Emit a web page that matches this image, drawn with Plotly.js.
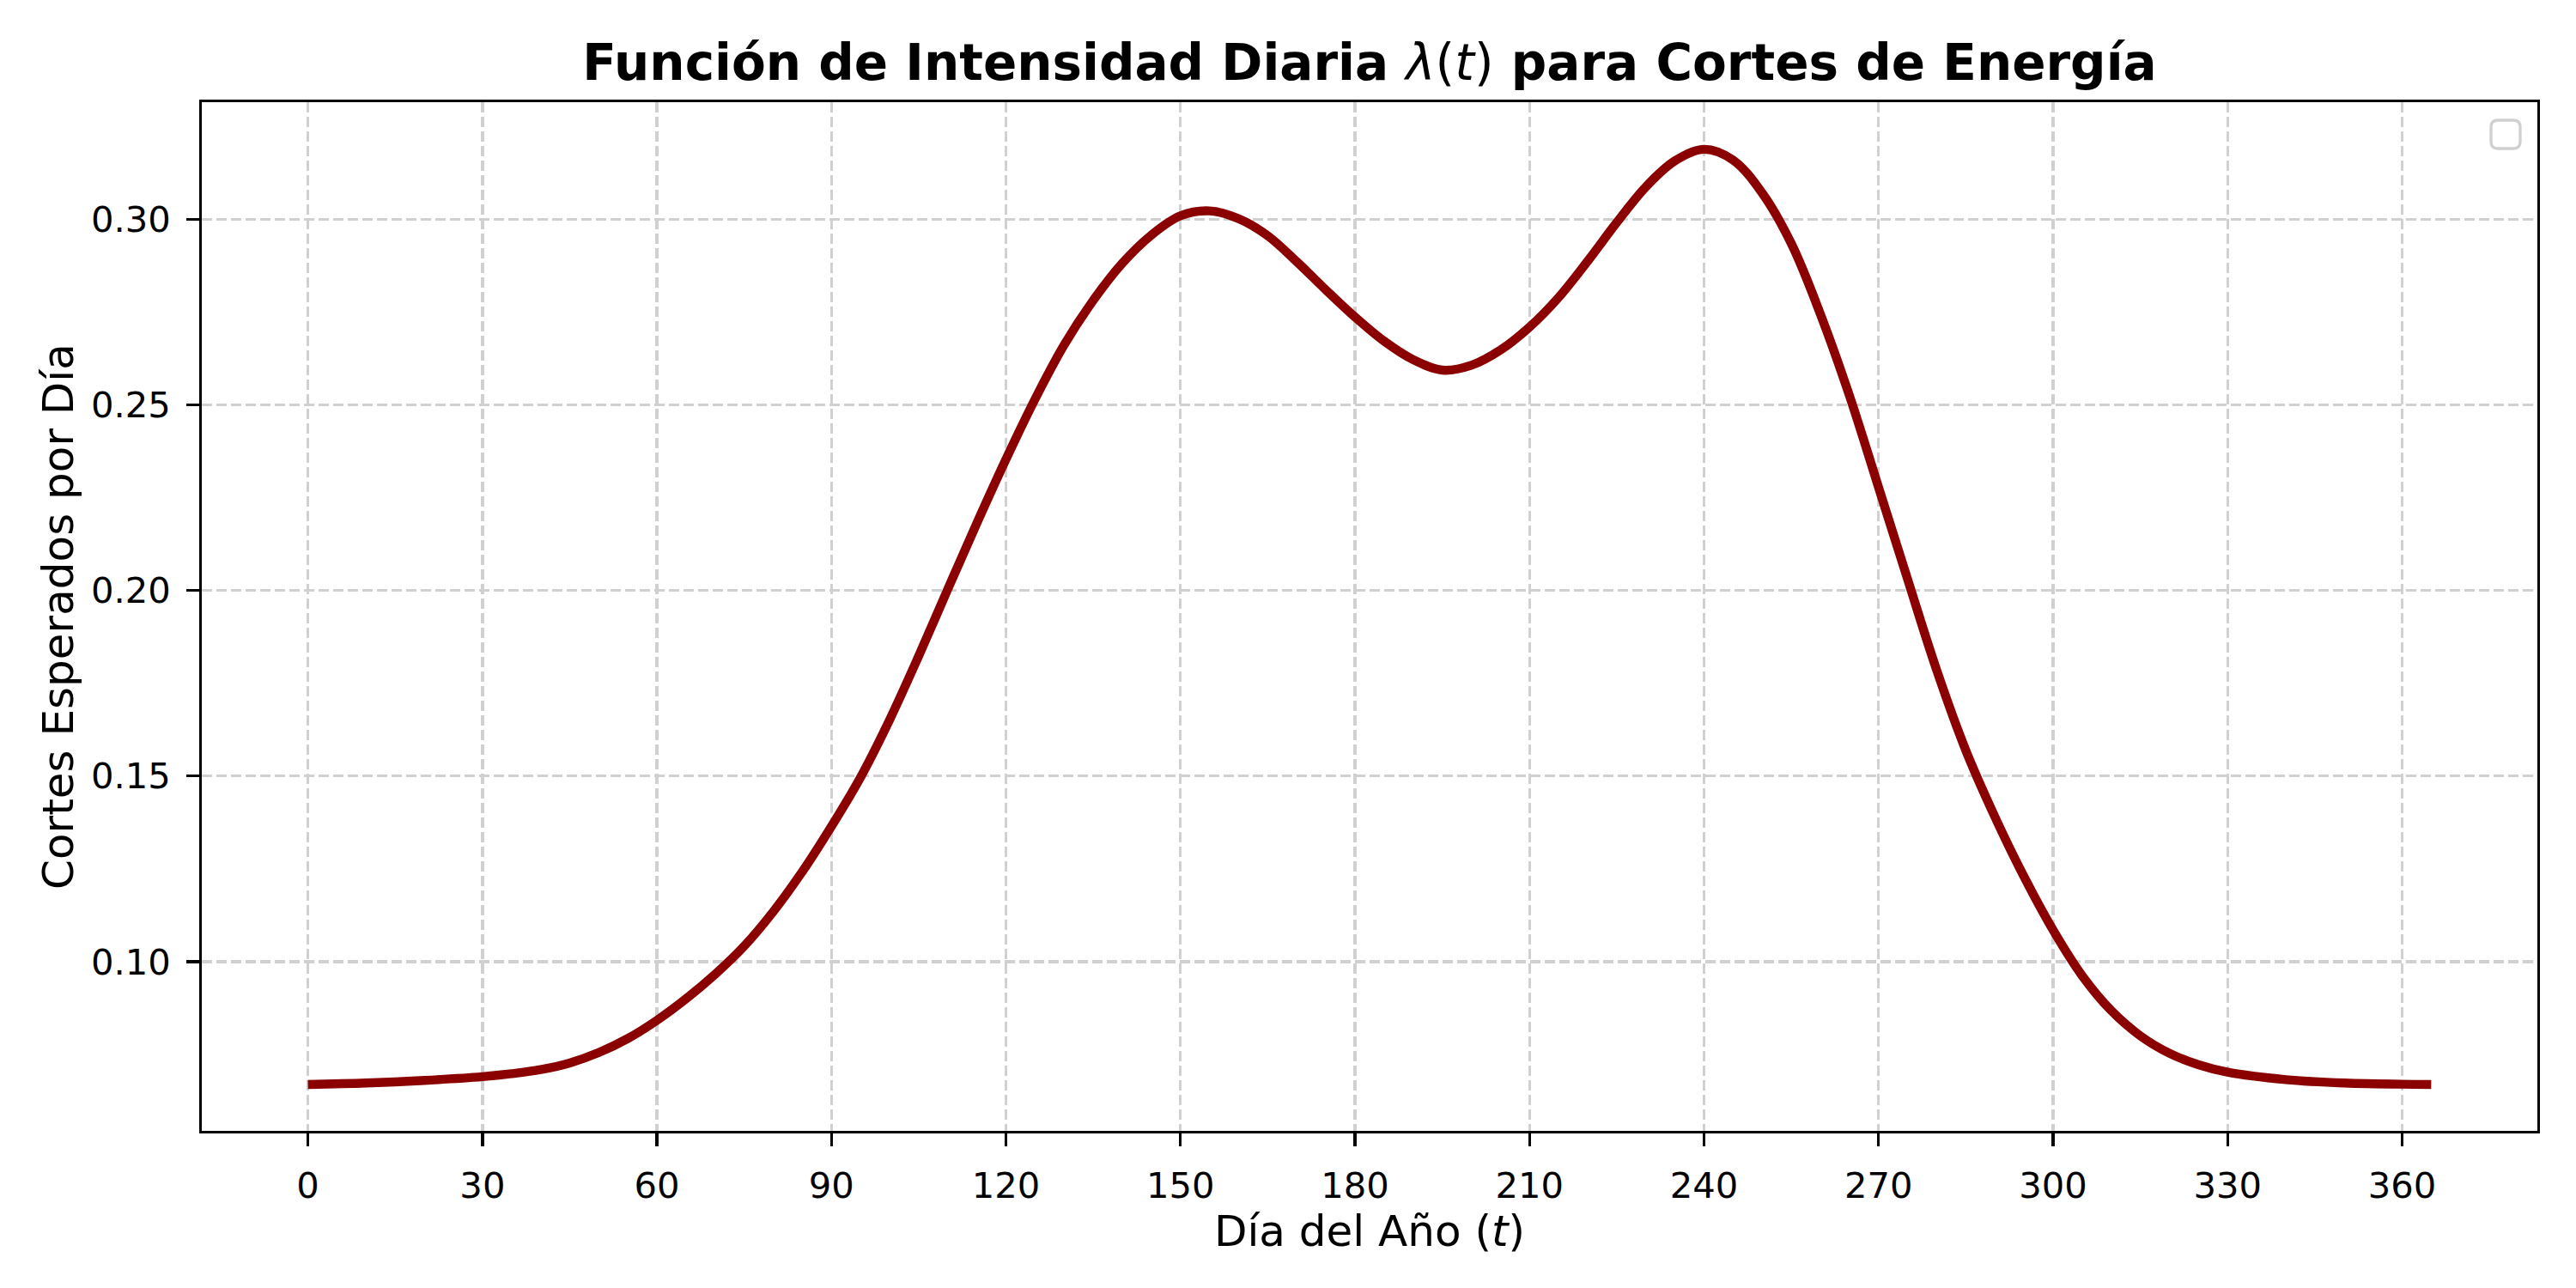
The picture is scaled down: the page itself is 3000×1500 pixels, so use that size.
<!DOCTYPE html>
<html>
<head>
<meta charset="utf-8">
<script src="https://cdn.plot.ly/plotly-3.0.1.min.js"></script>
<style>html,body{margin:0;padding:0;background:#fff;}</style>
</head>
<body>
<div id="chart" style="width:3000px;height:1500px;"></div>
<script>
// Values
const days = [0, 10, 20, 30, 35, 40, 45, 50, 55, 60, 65, 70, 75, 80, 85, 90, 95, 100, 105, 110, 115, 120, 125, 130, 135, 140, 145, 150, 155, 160, 165, 170, 175, 180, 185, 190, 195, 200, 205, 210, 215, 220, 225, 230, 235, 240, 245, 250, 255, 260, 265, 270, 275, 280, 285, 290, 295, 300, 305, 310, 315, 320, 325, 330, 340, 350, 365];
const intensity = [0.0669, 0.0673, 0.0680, 0.0690, 0.0698, 0.0709, 0.0727, 0.0755, 0.0793, 0.0842, 0.0900, 0.0966, 0.1042, 0.1135, 0.1243, 0.1365, 0.1497, 0.1652, 0.1824, 0.2004, 0.2182, 0.2354, 0.2516, 0.2662, 0.2782, 0.2882, 0.2958, 0.3010, 0.3023, 0.3002, 0.2956, 0.2886, 0.2810, 0.2737, 0.2672, 0.2622, 0.2594, 0.2607, 0.2648, 0.2710, 0.2790, 0.2888, 0.2992, 0.3088, 0.3158, 0.3189, 0.3160, 0.3071, 0.2935, 0.2745, 0.2525, 0.2278, 0.2030, 0.1785, 0.1569, 0.1390, 0.1229, 0.1085, 0.0962, 0.0868, 0.0800, 0.0753, 0.0722, 0.0702, 0.0682, 0.0673, 0.0669];
const xTicks = [0, 30, 60, 90, 120, 150, 180, 210, 240, 270, 300, 330, 360];
const yTicks = [0.10, 0.15, 0.20, 0.25, 0.30];

const W = 3000, H = 1500;
const L = 235, R = 2955, T = 119, B = 1317;
const pw = R - L, ph = B - T;
function px(x) { return ((x - L) / pw).toFixed(5); }
function py(y) { return ((B - y) / ph).toFixed(5); }
// empty legend frame (rounded rectangle) like the reference
function roundRect(x0, y0, x1, y1, r) {
  return 'M' + px(x0 + r) + ',' + py(y0) +
    ' L' + px(x1 - r) + ',' + py(y0) +
    ' Q' + px(x1) + ',' + py(y0) + ' ' + px(x1) + ',' + py(y0 + r) +
    ' L' + px(x1) + ',' + py(y1 - r) +
    ' Q' + px(x1) + ',' + py(y1) + ' ' + px(x1 - r) + ',' + py(y1) +
    ' L' + px(x0 + r) + ',' + py(y1) +
    ' Q' + px(x0) + ',' + py(y1) + ' ' + px(x0) + ',' + py(y1 - r) +
    ' L' + px(x0) + ',' + py(y0 + r) +
    ' Q' + px(x0) + ',' + py(y0) + ' ' + px(x0 + r) + ',' + py(y0) + ' Z';
}

const FONT = '"DejaVu Sans", "Liberation Sans", sans-serif';

const trace = {
  x: days,
  y: intensity,
  type: 'scatter',
  mode: 'lines',
  line: { color: '#8b0000', width: 10.4, shape: 'spline', smoothing: 1 },
  showlegend: false,
  hoverinfo: 'skip'
};

const axisCommon = {
  showline: true, mirror: true, linecolor: '#000', linewidth: 3.3,
  ticks: 'outside', ticklen: 14.6, tickwidth: 3.3, tickcolor: '#000',
  showgrid: true, gridcolor: '#d0d0d0', gridwidth: 3.3, griddash: '12px,5px',
  zeroline: false,
  tickfont: { family: FONT, size: 41.7, color: '#000' },
  automargin: false
};

const layout = {
  width: W, height: H,
  paper_bgcolor: '#fff', plot_bgcolor: '#fff',
  margin: { l: L, r: W - R, t: T, b: H - B, pad: 0 },
  font: { family: FONT, color: '#000' },
  title: {
    text: '<b>Función de Intensidad Diaria </b><i>λ</i>(<i>t</i>)<b> para Cortes de Energía</b>',
    font: { family: FONT, size: 58, color: '#000' },
    x: (L + R) / 2 / W, xanchor: 'center', xref: 'container',
    y: 1 - 73 / H, yanchor: 'middle', yref: 'container'
  },
  xaxis: Object.assign({}, axisCommon, {
    range: [-18.25, 383.25],
    tickmode: 'array', tickvals: xTicks, ticktext: xTicks.map(String),
    ticklabelstandoff: 10,
    title: { text: 'Día del Año (<i>t</i>)', font: { family: FONT, size: 50, color: '#000' }, standoff: 11 }
  }),
  yaxis: Object.assign({}, axisCommon, {
    range: [0.0544, 0.3316],
    tickmode: 'array', tickvals: yTicks, ticktext: yTicks.map(v => v.toFixed(2)),
    ticklabelstandoff: 10,
    title: { text: 'Cortes Esperados por Día', font: { family: FONT, size: 50, color: '#000' }, standoff: 5 }
  }),
  shapes: [{
    type: 'path', xref: 'paper', yref: 'paper',
    path: roundRect(2901, 140, 2935, 173, 8),
    line: { color: '#d0d0d0', width: 3.3 },
    fillcolor: 'rgba(255,255,255,0.8)',
    layer: 'above'
  }]
};

Plotly.newPlot('chart', [trace], layout, { displayModeBar: false, staticPlot: true });
</script>
</body>
</html>
